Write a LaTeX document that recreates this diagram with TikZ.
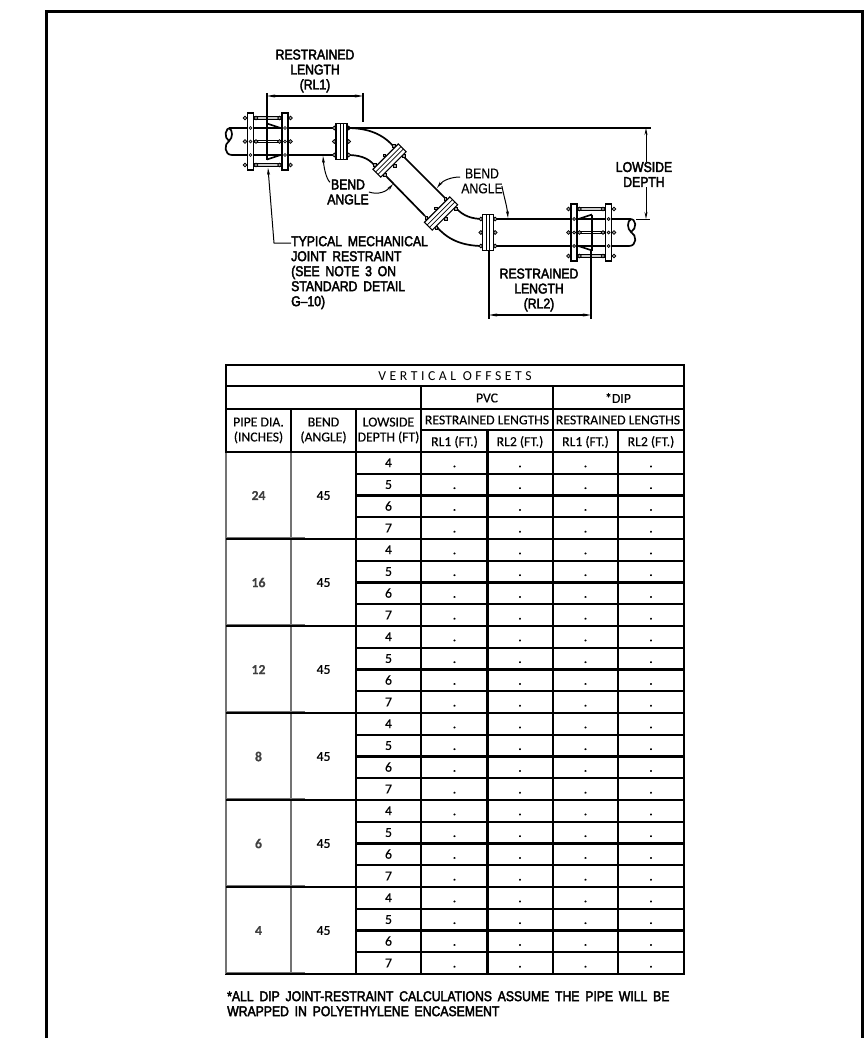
\documentclass[tikz,border=0pt]{standalone}
\usepackage{fontspec}
\usetikzlibrary{arrows.meta}
\setmainfont[FakeBold=0.25]{Carlito}
\newfontfamily\cadbold[FakeStretch=0.86,FakeBold=2.8,WordSpace=1.7]{Liberation Sans}
\newfontfamily\cadlight[FakeStretch=0.86,FakeBold=0.4,WordSpace=1.7]{Liberation Sans}
\newfontfamily\titlefont[LetterSpace=26]{Carlito}

\tikzset{
  pipeline/.style={line width=1.7pt},
  dimline/.style={line width=1.2pt,{Stealth[length=8pt,width=3pt]}-{Stealth[length=8pt,width=3pt]}},
  extline/.style={line width=1.2pt},
  leader/.style={line width=1pt,-{Stealth[length=7pt,width=3pt]}},
  cadlabel/.style={font=\cadbold\fontsize{14.2}{15}\selectfont,align=center,inner sep=0pt},
  cadthin/.style={font=\cadlight\fontsize{14.2}{15}\selectfont,align=center,inner sep=0pt},
  boltdot/.style={fill=gray!70,draw=black,line width=0.8pt},
  tbl/.style={line width=2.3pt},
  tblgray/.style={line width=2.5pt,draw=black!55},
  head/.style={font=\fontsize{13.7}{15}\selectfont,align=center,inner sep=0pt},
  cell/.style={font=\fontsize{13.7}{15}\selectfont,inner sep=0pt,text height=8.5pt,text depth=0pt},
  flangejoint/.pic={
    \foreach \by in {-13.5,0,13.5} {
      \draw[boltdot] (-7.2,\by) circle (1.9);
      \draw[boltdot] (7.2,\by) circle (1.9);
    }
    \draw[line width=1.1pt,fill=white] (-5.5,-18) rectangle (5.5,18);
    \draw[line width=0.7pt] (-1.6,-18) -- (-1.6,18);
    \draw[line width=0.7pt] (1.6,-18) -- (1.6,18);
  },
  mjrestraint/.pic={
    \draw[line width=1pt,fill=gray!40] (-15,-25) rectangle (15,-22);
    \draw[line width=1pt,fill=gray!40] (-15,22) rectangle (15,25);
    \draw[line width=0.8pt] (-15,-1) -- (15,-1);
    \draw[line width=0.8pt] (-15,1) -- (15,1);
    % wedge of the gland
    \draw[pipeline] (-1,-18) -- (14,-13);
    \draw[pipeline] (-1,18) -- (14,13);
    \draw[pipeline] (-1,-18) -- (-1,18);
    \foreach \rx in {-17.5,17} {
      \foreach \by in {-23.5,0,23.5} {
        \draw[boltdot] (\rx-5.5,\by) circle (1.9);
        \draw[boltdot] (\rx+5.5,\by) circle (1.9);
      }
      \draw[line width=1.1pt,fill=white] (\rx-3,-28.5) rectangle (\rx+3,28.5);
      \foreach \by in {-13.5,0,13.5}
        \draw[line width=0.7pt,fill=gray!50] (\rx,\by) circle (1.5);
    }
  }
}

\begin{document}
\begin{tikzpicture}[x=1pt,y=-1pt]
\useasboundingbox (0,0) rectangle (864,1038);

% sheet border
\draw[line width=3.4pt] (46.7,1038) -- (46.7,11.7) -- (862.6,11.7) -- (862.6,1038);

% pipe run
\draw[pipeline] (232,128) .. controls (224,127) and (224,138) .. (229,141) .. controls (233,138) and (233,130) .. (229,128);
\draw[pipeline] (229,141) .. controls (224,144) and (224,155) .. (232,155);
\draw[pipeline] (229,128) -- (336,128);
\draw[pipeline] (232,155) -- (336,155);
\draw[pipeline] (347,128) .. controls (368,128) and (383,134) .. (394,147);
\draw[pipeline] (347,155) .. controls (358,155) and (368,157) .. (375,166);
\draw[pipeline] (404,157) -- (445,198);
\draw[pipeline] (385,175) -- (425,216);
\draw[pipeline] (456,208) .. controls (463,216) and (472,219) .. (483,219);
\draw[pipeline] (436,226) .. controls (446,238) and (460,246) .. (483,246);
\draw[pipeline] (493,219) -- (629,219);
\draw[pipeline] (493,246) -- (629,246);
\draw[pipeline] (629,219) .. controls (637,218) and (637,229) .. (631,232) .. controls (627,229) and (627,221) .. (631,219);
\draw[pipeline] (631,232) .. controls (637,235) and (637,246) .. (629,246);

\pic at (341.5,141.5) {flangejoint};
\pic[rotate=-45] at (389.5,160.5) {flangejoint};
\pic[rotate=-45] at (441,213.5) {flangejoint};
\pic at (488,232.5) {flangejoint};
\pic at (268,141.5) {mjrestraint};
\pic[xscale=-1] at (591,232.5) {mjrestraint};

% restrained length RL1
\node[cadlabel] (rlonelbl) at (315,71) {RESTRAINED\\LENGTH\\(RL1)};
\coordinate (rloneL) at (267,96);
\coordinate (rloneR) at (363,96);
\draw[extline] (267,93) -- (267,124);
\draw[extline] (363,93) -- (363,122);
\draw[dimline] (rloneL) -- (rloneR);

% lowside depth
\node[cadlabel] (lowlbl) at (644,174.5) {LOWSIDE\\DEPTH};
\coordinate (lowtop) at (646,128);
\coordinate (lowbot) at (646,219);
\draw[extline] (347,128) -- (651,128);
\draw[extline] (636,219.5) -- (650,219.5);
\draw[leader] (lowlbl.north -| lowtop) -- (lowtop);
\draw[leader] (lowlbl.south -| lowbot) -- (lowbot);

% restrained length RL2
\node[cadlabel] (rltwolbl) at (539,290) {RESTRAINED\\LENGTH\\(RL2)};
\coordinate (rltwoL) at (489,315);
\coordinate (rltwoR) at (591,315);
\draw[extline] (489,250) -- (489,319);
\draw[extline] (591,251) -- (591,319);
\draw[dimline] (rltwoL) -- (rltwoR);

% bend angle labels
\node[cadlabel] (bendone) at (348,192) {BEND\\ANGLE};
\node[cadthin] (bendtwo) at (482,181) {BEND\\ANGLE};
\coordinate (bendoneA) at (323,156);
\coordinate (bendoneB) at (393,184);
\coordinate (bendtwoA) at (437,188);
\coordinate (bendtwoB) at (508,218);
\draw[leader] (bendone.north west) ++(3,3) .. controls (327,180) and (324,170) .. (bendoneA);
\draw[leader] (bendone.east) .. controls (378,195) and (386,192) .. (bendoneB);
\draw[leader] (bendtwo.west) ++(-1,-4) .. controls (452,177) and (443,180) .. (bendtwoA);
\draw[leader] (bendtwo.east) ++(-1,5) .. controls (504,197) and (507,206) .. (bendtwoB);

% restraint note
\node[cadlabel,align=left,anchor=north west] (mjnote) at (291,236) {TYPICAL MECHANICAL\\JOINT RESTRAINT\\(SEE NOTE 3 ON\\STANDARD DETAIL\\G–10)};
\coordinate (mjtip) at (268,168);
\coordinate (mjbend) at (274,243);
\draw[leader] (mjnote.north west |- mjbend) -- (mjbend) -- (mjtip);

% table frame
\draw[tbl] (226,365) rectangle (684,974);
\draw[tbl] (226,386) -- (684,386);
\draw[tbl] (226,409) -- (684,409);
\draw[tbl] (421,430) -- (684,430);
\draw[tbl] (226,452) -- (684,452);
\draw[tbl] (421,386) -- (421,974);
\draw[tbl] (552.7,386) -- (552.7,974);
\draw[tbl] (356,409) -- (356,974);
\draw[tbl] (291,409) -- (291,452);
\draw[tbl] (487.5,430) -- (487.5,974);
\draw[tbl] (618,430) -- (618,974);
\draw[tblgray] (226,453) -- (226,974);
\draw[tblgray] (291,453) -- (291,974);

% table headers
\node[head,font=\titlefont\fontsize{13.7}{15}\selectfont] (title) at (455,376) {VERTICAL OFFSETS};
\node[head] (pvc) at (487,398) {PVC};
\node[head] (dip) at (618,398) {*DIP};
\node[head] (pipedia) at (258.5,430.5) {PIPE DIA.\\(INCHES)};
\node[head] (bendhd) at (323.5,430.5) {BEND\\(ANGLE)};
\node[head] (lowhd) at (388.5,430.5) {LOWSIDE\\DEPTH (FT)};
\node[head] (rlpvc) at (487,420) {RESTRAINED LENGTHS};
\node[head] (rldip) at (618,420) {RESTRAINED LENGTHS};
\node[head] (rlapvc) at (454.5,442) {RL1 (FT.)};
\node[head] (rlbpvc) at (520,442) {RL2 (FT.)};
\node[head] (rladip) at (585.5,442) {RL1 (FT.)};
\node[head] (rlbdip) at (651,442) {RL2 (FT.)};

% table rows
\foreach \dia [count=\g from 0] in {24,16,12,8,6,4} {
  \pgfmathsetmacro{\gtop}{452+87*\g}
  \pgfmathsetmacro{\gmid}{\gtop+43.5}
  \pgfmathsetmacro{\gbot}{\gtop+87}
  \node[head,text=black!75] (dia\g) at (258.5,\gmid) {\textbf{\dia}};
  \node[head] (ang\g) at (323.5,\gmid) {45};
  \draw[tbl] (226,\gbot) -- (356,\gbot);
  \draw[line width=1.2pt,draw=black!55] (226,\gbot-1.4) -- (305,\gbot-1.4);
  \foreach \depth [count=\r from 0] in {4,5,6,7} {
    \pgfmathsetmacro{\rmid}{\gtop+21.75*\r+10.9}
    \pgfmathsetmacro{\rbot}{\gtop+21.75*\r+21.75}
    \draw[tbl] (356,\rbot) -- (684,\rbot);
    \node[cell] (dep\g-\r) at (388.5,\rmid) {\depth};
    \foreach \cx [count=\c] in {454.5,520,585.5,651}
      \node[cell] (val\g-\r-\c) at (\cx,\rmid) {.};
  }
}

% footnote
\node[cadlabel,align=left,anchor=north west] (footnote) at (227,991) {*ALL DIP JOINT-RESTRAINT CALCULATIONS ASSUME THE PIPE WILL BE\\WRAPPED IN POLYETHYLENE ENCASEMENT};

\end{tikzpicture}
\end{document}
